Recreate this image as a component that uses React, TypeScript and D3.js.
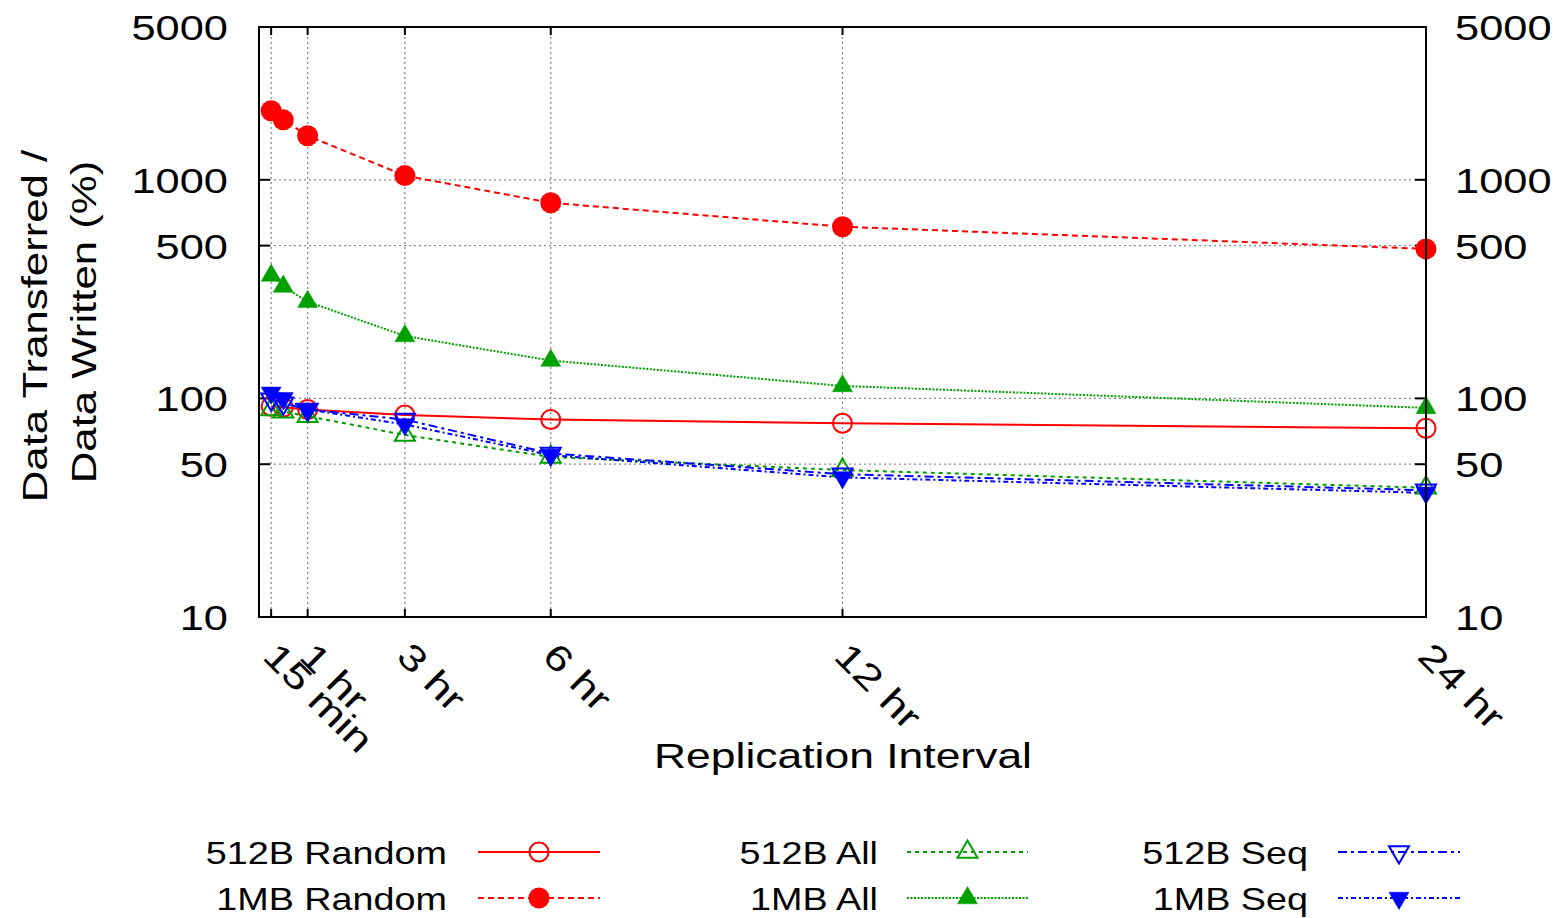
import React from "react";
import * as d3 from "d3";

const hours = [0.25, 0.5, 1, 3, 6, 12, 24];
const random512 = [92, 91, 89, 84, 80, 77, 73];
const random1MB = [2070, 1880, 1590, 1045, 785, 610, 483];
const all512 = [89, 87, 83, 68, 54, 47, 39];
const all1MB = [365, 325, 277, 193, 149, 114, 90.5];
const seq512 = [99, 95, 89, 80, 56, 45, 38];
const seq1MB = [106, 100, 89, 76, 55, 43.5, 37];

const xTickValues = [0.25, 1, 3, 6, 12, 24];
const xTickLabels = ["15 min", "1 hr", "3 hr", "6 hr", "12 hr", "24 hr"];
const yTickValues = [10, 50, 100, 500, 1000, 5000];

const seriesNames = ["512B Random", "1MB Random", "512B All", "1MB All", "512B Seq", "1MB Seq"];

type Marker = "circle" | "circleFill" | "up" | "upFill" | "down" | "downFill";

const series = [
  { name: seriesNames[0], values: random512, color: "#ff0000", dash: "none", marker: "circle" as Marker },
  { name: seriesNames[1], values: random1MB, color: "#ff0000", dash: "6,4", marker: "circleFill" as Marker },
  { name: seriesNames[2], values: all512, color: "#00a000", dash: "4,4", marker: "up" as Marker },
  { name: seriesNames[3], values: all1MB, color: "#00a000", dash: "2,1.5", marker: "upFill" as Marker },
  { name: seriesNames[4], values: seq512, color: "#0000ff", dash: "9,4,3,4", marker: "down" as Marker },
  { name: seriesNames[5], values: seq1MB, color: "#0000ff", dash: "5,3,2,3", marker: "downFill" as Marker },
];

const W = 1564;
const H = 918;
const left = 259;
const right = 1426;
const top = 27;
const bottom = 617;

const FONT = "'Liberation Sans', Arial, Helvetica, sans-serif";

function T(props: {
  x: number;
  y: number;
  text: string;
  size: number;
  sx: number;
  anchor?: string;
  rotate?: number;
}) {
  const { x, y, text, size, sx, anchor = "start", rotate = 0 } = props;
  return (
    <text
      transform={`translate(${x},${y}) rotate(${rotate}) scale(${sx},1)`}
      fontFamily={FONT}
      fontSize={size}
      textAnchor={anchor}
      fill="#000"
    >
      {text}
    </text>
  );
}

function MarkerShape(props: { m: Marker; x: number; y: number; color: string }) {
  const { m, x, y, color } = props;
  const s = 10;
  if (m === "circle" || m === "circleFill") {
    const filled = m === "circleFill";
    return (
      <circle
        cx={x}
        cy={y}
        r={filled ? 10.5 : 9.5}
        fill={filled ? color : "none"}
        stroke={color}
        strokeWidth={filled ? 0 : 2}
      />
    );
  }
  const up = m === "up" || m === "upFill";
  const filled = m === "upFill" || m === "downFill";
  const h1 = 11.5;
  const h2 = 5.8;
  const pts = up
    ? [
        [x, y - h1],
        [x - s, y + h2],
        [x + s, y + h2],
      ]
    : [
        [x, y + h1],
        [x - s, y - h2],
        [x + s, y - h2],
      ];
  return (
    <polygon
      points={pts.map((p) => p.join(",")).join(" ")}
      fill={filled ? color : "none"}
      stroke={color}
      strokeWidth={filled ? 0.5 : 2}
      strokeLinejoin="miter"
    />
  );
}

export default function App() {
  const x = d3.scaleLinear().domain([0, 24]).range([left, right]);
  const y = d3.scaleLog().domain([10, 5000]).range([bottom, top]);

  const line = d3
    .line<number>()
    .x((_, i) => x(hours[i]))
    .y((v) => y(v));

  const tickSize = 35;
  const tickSx = 1.24;

  const legendCols = [
    { textRight: 447, lineX0: 478, lineX1: 600 },
    { textRight: 878, lineX0: 907, lineX1: 1028 },
    { textRight: 1308, lineX0: 1338, lineX1: 1460 },
  ];
  const legendRows = [852, 898];

  return (
    <svg
      width={W}
      height={H}
      style={{ position: "absolute", left: 0, top: 0, background: "#fff" }}
    >
      <rect x={0} y={0} width={W} height={H} fill="#fff" />
      {/* grid */}
      <g stroke="#8a8a8a" strokeWidth={1.3} strokeDasharray="2,3">
        {yTickValues
          .filter((v) => v !== 10 && v !== 5000)
          .map((v) => (
            <line key={"gy" + v} x1={left} x2={right} y1={y(v)} y2={y(v)} />
          ))}
        {xTickValues
          .filter((v) => v !== 24)
          .map((v) => (
            <line key={"gx" + v} x1={x(v)} x2={x(v)} y1={top} y2={bottom} />
          ))}
      </g>
      {/* ticks */}
      <g stroke="#000" strokeWidth={2}>
        {yTickValues.map((v) => (
          <g key={"ty" + v}>
            <line x1={left} x2={left + 11} y1={y(v)} y2={y(v)} />
            <line x1={right} x2={right - 11} y1={y(v)} y2={y(v)} />
          </g>
        ))}
        {xTickValues.map((v) => (
          <g key={"tx" + v}>
            <line x1={x(v)} x2={x(v)} y1={bottom} y2={bottom - 8} />
            <line x1={x(v)} x2={x(v)} y1={top} y2={top + 8} />
          </g>
        ))}
      </g>
      {/* series */}
      {series.map((s) => (
        <g key={s.name}>
          <path
            d={line(s.values) || ""}
            fill="none"
            stroke={s.color}
            strokeWidth={2}
            strokeDasharray={s.dash}
          />
          {s.values.map((v, i) => (
            <MarkerShape key={i} m={s.marker} x={x(hours[i])} y={y(v)} color={s.color} />
          ))}
        </g>
      ))}
      {/* border */}
      <rect
        x={left}
        y={top}
        width={right - left}
        height={bottom - top}
        fill="none"
        stroke="#000"
        strokeWidth={2}
      />
      {/* y tick labels */}
      {yTickValues.map((v) => (
        <g key={"ly" + v}>
          <T x={228} y={y(v) + 13} text={String(v)} size={tickSize} sx={tickSx} anchor="end" />
          <T x={1455} y={y(v) + 13} text={String(v)} size={tickSize} sx={tickSx} anchor="start" />
        </g>
      ))}
      {/* x tick labels */}
      {xTickValues.map((v, i) => (
        <T
          key={"lx" + v}
          x={x(v) - 10}
          y={658}
          text={xTickLabels[i]}
          size={36}
          sx={1.27}
          rotate={45}
        />
      ))}
      {/* axis titles */}
      <T x={843} y={768} text="Replication Interval" size={35} sx={1.27} anchor="middle" />
      <T x={47} y={326} text="Data Transferred /" size={35} sx={1.25} anchor="middle" rotate={-90} />
      <T x={96} y={322} text="Data Written (%)" size={35} sx={1.25} anchor="middle" rotate={-90} />
      {/* legend */}
      {series.map((s, i) => {
        const col = legendCols[Math.floor(i / 2)];
        const ry = legendRows[i % 2];
        const mx = (col.lineX0 + col.lineX1) / 2;
        return (
          <g key={"lg" + s.name}>
            <T x={col.textRight} y={ry + 12} text={s.name} size={32} sx={1.18} anchor="end" />
            <line
              x1={col.lineX0}
              x2={col.lineX1}
              y1={ry}
              y2={ry}
              stroke={s.color}
              strokeWidth={2}
              strokeDasharray={s.dash}
            />
            <MarkerShape m={s.marker} x={mx} y={ry} color={s.color} />
          </g>
        );
      })}
    </svg>
  );
}
